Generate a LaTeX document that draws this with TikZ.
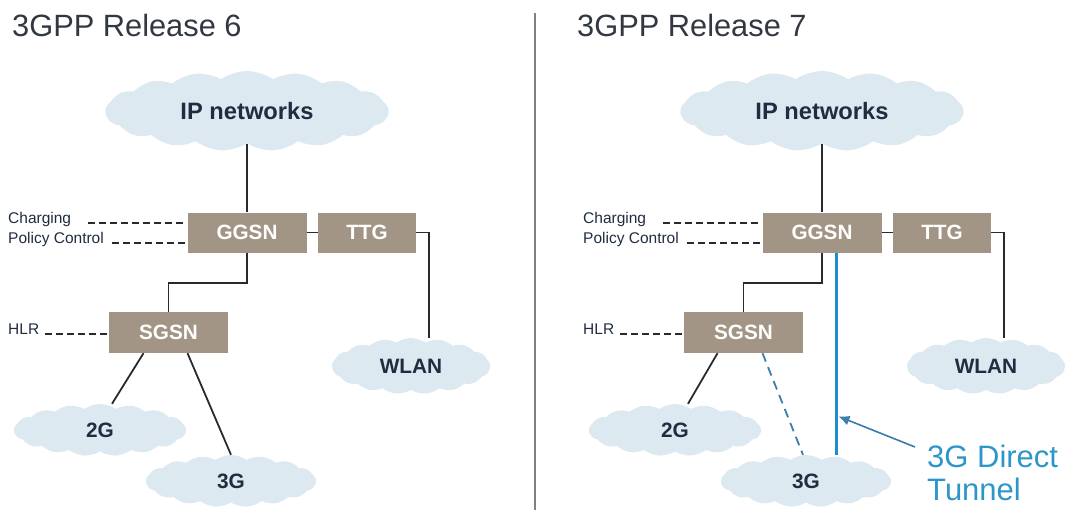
\documentclass[tikz,border=0pt]{standalone}
\usepackage{fontspec}
\setmainfont{Liberation Sans}
\usetikzlibrary{arrows.meta}
\usetikzlibrary{shapes.symbols}
\usetikzlibrary{positioning}
\definecolor{cloudblue}{RGB}{221,233,240}
\definecolor{boxbrown}{RGB}{163,149,133}
\definecolor{inkblue}{RGB}{32,44,64}
\definecolor{titlegray}{RGB}{50,56,66}
\definecolor{linegray}{RGB}{42,42,46}
\definecolor{tunnelblue}{RGB}{28,142,205}
\definecolor{tunneltext}{RGB}{45,150,200}
\definecolor{pointerblue}{RGB}{60,125,170}
\tikzset{net/.style = {cloud, cloud puffs=17, cloud puff arc=70, cloud ignores aspect,
                       fill=cloudblue, inner sep=0, text=inkblue,
                       font=\fontsize{20.8}{21}\selectfont\bfseries}}
\tikzset{ipfont/.style = {font=\fontsize{23.7}{24}\selectfont\bfseries}}
\tikzset{gsn/.style = {fill=boxbrown, minimum height=40pt, inner sep=0, text=white,
                       font=\fontsize{20.7}{21}\selectfont\bfseries}}
\tikzset{side/.style = {anchor=base west, inner sep=0, text=inkblue,
                        font=\fontsize{15.5}{16}\selectfont}}
\tikzset{title/.style = {anchor=base west, inner sep=0, text=titlegray,
                         font=\fontsize{30.8}{31}\selectfont}}
\tikzset{link/.style = {draw=linegray, line width=1.8pt}}
\tikzset{dashlink/.style = {draw=linegray, line width=1.4pt, dash pattern=on 7pt off 4pt}}
\tikzset{tunnel/.style = {draw=tunnelblue, line width=3.4pt}}
\tikzset{tunneldash/.style = {draw=pointerblue, line width=1.8pt, dash pattern=on 9pt off 6pt}}
\tikzset{pointer/.style = {draw=pointerblue, line width=1.6pt,
                           -{Latex[length=11pt, width=10pt]}}}

\begin{document}
\begin{tikzpicture}[x=1pt, y=-1pt]
    \useasboundingbox (0,0) rectangle (1074,514);

    \node [title] (rel6) at (12,36) {3GPP Release 6};
    \node [title] (rel7) at (577,36) {3GPP Release 7};
    \draw [gray, line width=1.5pt] (535,13) -- (535,510);

    % Release 6
    \node [net, ipfont, minimum width=283pt, minimum height=80pt] (ip6) at (247,111) {IP networks};
    \node [gsn, minimum width=119pt] (ggsn6) at (247,232.5) {GGSN};
    \node [gsn, minimum width=98pt] (ttg6) at (367,232.5) {TTG};
    \node [gsn, minimum width=119pt, minimum height=41pt] (sgsn6) at (168.5,332.5) {SGSN};
    \node [net, minimum width=158pt, minimum height=56pt] (wlan6) at (411,366) {WLAN};
    \node [net, minimum width=172pt, minimum height=52pt] (twoG6) at (100,430) {2G};
    \node [net, minimum width=170pt, minimum height=52pt] (threeG6) at (231,481) {3G};

    \node [side] (charging6) at (8,223) {Charging};
    \node [side] (policy6) at (8,243) {Policy Control};
    \node [side] (hlr6) at (8,334) {HLR};

    \draw [link] (ip6) -- (ggsn6);
    \draw [link] (ggsn6) -- (ttg6);
    \draw [link] (ttg6.east) -| ([xshift=18pt]wlan6.north);
    \draw [link] (ggsn6.south) -- ++(0,30) -| (sgsn6.north);
    \draw [link] ([xshift=-25pt]sgsn6.south) -- ([xshift=12pt]twoG6.north);
    \draw [link] ([xshift=19pt]sgsn6.south) -- (threeG6.north);
    \draw [dashlink] ([xshift=17pt]charging6.base east) -- (ggsn6.west |- charging6.base);
    \draw [dashlink] ([xshift=8pt]policy6.base east) -- (ggsn6.west |- policy6.base);
    \draw [dashlink] ([xshift=6pt]hlr6.base east) -- (sgsn6.west |- hlr6.base);

    % Release 7
    \begin{scope}[shift={(575,0)}]
      \node [net, ipfont, minimum width=283pt, minimum height=80pt] (ip7) at (247,111) {IP networks};
      \node [gsn, minimum width=119pt] (ggsn7) at (247,232.5) {GGSN};
      \node [gsn, minimum width=98pt] (ttg7) at (367,232.5) {TTG};
      \node [gsn, minimum width=119pt, minimum height=41pt] (sgsn7) at (168.5,332.5) {SGSN};
      \node [net, minimum width=158pt, minimum height=56pt] (wlan7) at (411,366) {WLAN};
      \node [net, minimum width=172pt, minimum height=52pt] (twoG7) at (100,430) {2G};
      \node [net, minimum width=170pt, minimum height=52pt] (threeG7) at (231,481) {3G};

      \node [side] (charging7) at (8,223) {Charging};
      \node [side] (policy7) at (8,243) {Policy Control};
      \node [side] (hlr7) at (8,334) {HLR};

      \draw [link] (ip7) -- (ggsn7);
      \draw [link] (ggsn7) -- (ttg7);
      \draw [link] (ttg7.east) -| ([xshift=18pt]wlan7.north);
      \draw [link] (ggsn7.south) -- ++(0,30) -| (sgsn7.north);
      \draw [link] ([xshift=-26pt]sgsn7.south) -- ([xshift=13pt]twoG7.north);
      \draw [tunneldash] ([xshift=19pt]sgsn7.south) -- ([xshift=-3pt]threeG7.north);
      \draw [dashlink] ([xshift=17pt]charging7.base east) -- (ggsn7.west |- charging7.base);
      \draw [dashlink] ([xshift=8pt]policy7.base east) -- (ggsn7.west |- policy7.base);
      \draw [dashlink] ([xshift=6pt]hlr7.base east) -- (sgsn7.west |- hlr7.base);
    \end{scope}

    % direct tunnel
    \coordinate (tunnelTop) at ([xshift=14.5pt]ggsn7.south);
    \draw [tunnel] (tunnelTop) -- (tunnelTop |- threeG7.north) coordinate [pos=0.81] (tunnelHit);
    \node [anchor=north west, inner sep=0, align=left, text=tunneltext,
           font=\fontsize{31}{33}\selectfont] (tunnelText) at (927,445) {3G Direct\\Tunnel};
    \draw [pointer] ([xshift=-12pt, yshift=-2pt]tunnelText.north west) -- ([xshift=2pt]tunnelHit);

  \end{tikzpicture}
\end{document}
